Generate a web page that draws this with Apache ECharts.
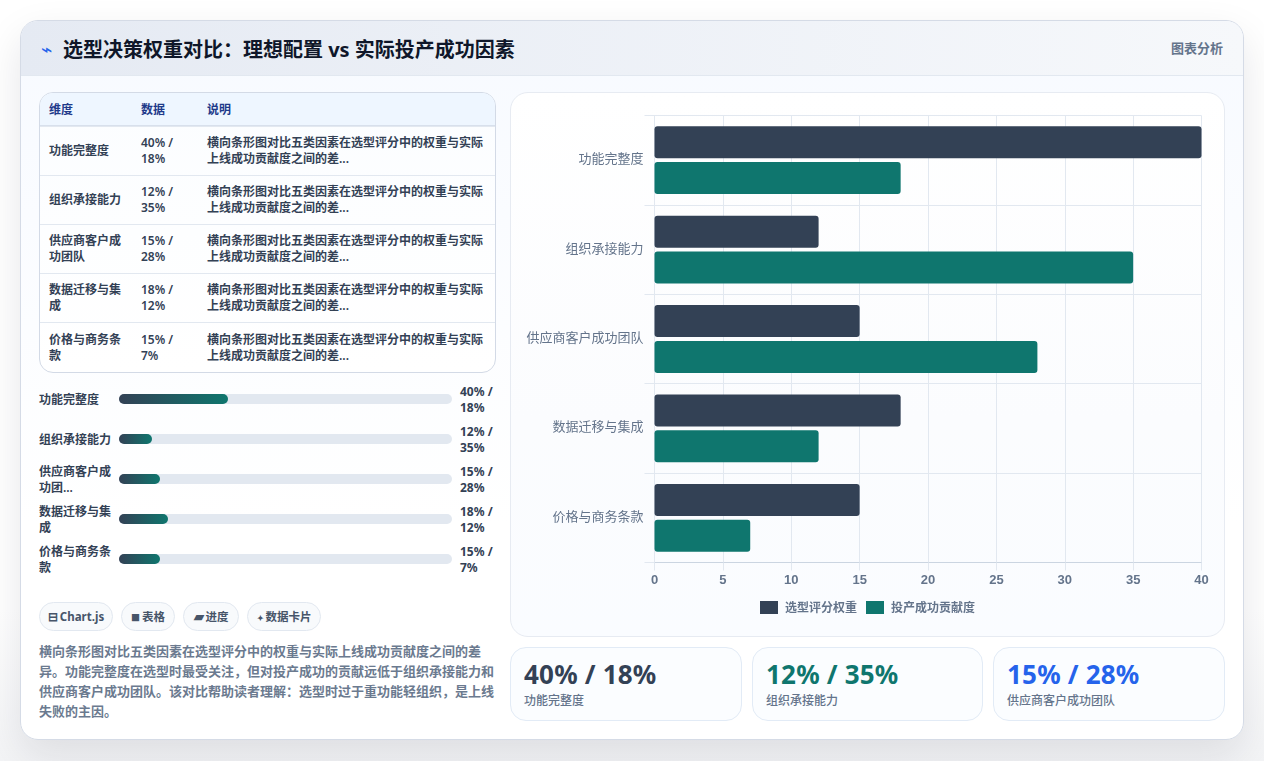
<!DOCTYPE html>
<html lang="zh-CN">
<head>
<meta charset="utf-8">
<title>选型决策权重对比</title>
<script src="https://cdn.jsdelivr.net/npm/echarts@6/dist/echarts.min.js"></script>
<style>
*{box-sizing:border-box;margin:0;padding:0}
html,body{width:1264px;height:761px;overflow:hidden;background:linear-gradient(180deg,#fff 0%,#fff 80%,#f3f4f6 100%);font-family:"Noto Sans","Noto Sans CJK SC",sans-serif;color:#334155}
.abs{position:absolute}
#card{left:20px;top:20px;width:1224px;height:720px;border-radius:18px;background:linear-gradient(180deg,#f7faff 0%,#fff 70%);border:1px solid #d5dbe6;box-shadow:0 16px 40px rgba(15,23,42,.10);overflow:hidden}
#head{left:0;top:0;width:1222px;height:55px;background:linear-gradient(90deg,#e5eaf3 0%,#f6f8fb 100%);border-bottom:1px solid #e2e8f0}
#icon{left:20px;top:14px;font-size:19px;line-height:28px;color:#2563eb}
#title{left:42px;top:13px;font-size:20px;line-height:32px;font-weight:700;color:#0f172a;white-space:nowrap}
#tag{right:20px;top:16px;font-size:13px;line-height:22px;font-weight:600;color:#64748b}
#table{left:39px;top:92px;width:457px;height:281px;border:1px solid #d3dae6;border-radius:14px;overflow:hidden;background:linear-gradient(180deg,#fbfdff,#fff);font-size:12px;line-height:16px;font-weight:600}
.row{position:absolute;left:0;width:455px;border-top:1px solid #e2e8f0}
.row div{position:absolute;top:50%;transform:translateY(-50%)}
.c1{left:9px;width:76px}.c2{left:101px;width:44px}.c3{left:167px;width:284px}
.row.hd{top:0;height:33px;border-top:0;background:#eef6ff;color:#1e3a8a;font-weight:700;border-bottom:1px solid #d8e0ec}
.row.hd div{margin-top:1px}
.prog{position:absolute;left:39px;width:457px;height:34px;font-size:12px;line-height:16px;font-weight:600}
.prog .n{position:absolute;left:0;top:18px;transform:translateY(-50%);width:74px}
.prog .t{position:absolute;left:80px;top:12px;width:333px;height:10px;border-radius:5px;background:#e2e8f0}
.prog .f{height:10px;border-radius:5px;background:linear-gradient(90deg,#334155,#0f766e)}
.prog .v{position:absolute;left:421px;top:2px;width:40px;font-weight:700}
.chip{position:absolute;top:602px;height:29px;border:1px solid #e2e8f0;border-radius:15px;background:#f8fafc;font-size:11.5px;line-height:27px;font-weight:700;color:#475569;text-align:center;white-space:nowrap}
.chip i{font-style:normal;display:inline-block;text-align:center;margin-right:2px}
#desc{left:39px;top:641px;width:457px;font-size:13px;line-height:20px;font-weight:600;color:#6b7a8f}
#panel{left:510px;top:92px;width:715px;height:545px;border:1px solid #e7ebf2;border-radius:18px;background:linear-gradient(180deg,#fff 0%,#fbfcfe 60%,#fafcff 100%)}
#chart{left:511px;top:93px;width:713px;height:543px}
.stat{position:absolute;top:647px;height:74px;border:1px solid #e2ebf6;border-radius:16px;background:#fbfdff}
.stat b{position:absolute;left:13px;top:8px;font-size:26px;line-height:36px;font-weight:700;white-space:nowrap;letter-spacing:.2px}
.stat span{position:absolute;left:13px;top:44px;font-size:12px;line-height:18px;font-weight:500;color:#64748b;white-space:nowrap}
</style>
</head>
<body>
<div id="card" class="abs">
  <div id="head" class="abs"></div>
  <div id="icon" class="abs">⌁</div>
  <div id="title" class="abs"></div>
  <div id="tag" class="abs"></div>
</div>
<div id="table" class="abs"></div>
<div id="progs"></div>
<div id="chips"></div>
<div id="desc" class="abs"></div>
<div id="panel" class="abs"></div>
<div id="chart" class="abs"></div>
<div id="stats"></div>
<script>
// Chart data
const titleText = '选型决策权重对比：理想配置 vs 实际投产成功因素';
const tagText = '图表分析';
const categories = ['功能完整度', '组织承接能力', '供应商客户成功团队', '数据迁移与集成', '价格与商务条款'];
const selectionWeight = [40, 12, 15, 18, 15];
const deliveryContribution = [18, 35, 28, 12, 7];
const seriesNames = ['选型评分权重', '投产成功贡献度'];
const tableHeaders = ['维度', '数据', '说明'];
const tableNote = '横向条形图对比五类因素在选型评分中的权重与实际上线成功贡献度之间的差...';
const progressNames = ['功能完整度', '组织承接能力', '供应商客户成功团...', '数据迁移与集成', '价格与商务条款'];
const chipIcons = ['⊟', '■', '▰', '✦'];
const chipTexts = ['Chart.js', '表格', '进度', '数据卡片'];
const description = '横向条形图对比五类因素在选型评分中的权重与实际上线成功贡献度之间的差异。功能完整度在选型时最受关注，但对投产成功的贡献远低于组织承接能力和供应商客户成功团队。该对比帮助读者理解：选型时过于重功能轻组织，是上线失败的主因。';
const statColors = ['#334155', '#0f766e', '#2563eb'];
const progressScale = 122;

const pair = i => `${selectionWeight[i]}% / ${deliveryContribution[i]}%`;
const el = (tag, cls, html) => { const n = document.createElement(tag); if (cls) n.className = cls; n.innerHTML = html || ''; return n; };

document.getElementById('title').textContent = titleText;
document.getElementById('tag').textContent = tagText;
document.getElementById('desc').textContent = description;

// Table
const table = document.getElementById('table');
table.appendChild(el('div', 'row hd', `<div class="c1">${tableHeaders[0]}</div><div class="c2">${tableHeaders[1]}</div><div class="c3">${tableHeaders[2]}</div>`));
const rowTops = [33, 82, 131, 180, 229];
const rowHeights = [49, 49, 49, 49, 50];
categories.forEach((c, i) => {
  const r = el('div', 'row', `<div class="c1">${c}</div><div class="c2">${pair(i)}</div><div class="c3">${tableNote}</div>`);
  r.style.top = rowTops[i] + 'px';
  r.style.height = rowHeights[i] + 'px';
  table.appendChild(r);
});

// Progress rows
const progs = document.getElementById('progs');
progressNames.forEach((n, i) => {
  const p = el('div', 'prog', `<div class="n">${n}</div><div class="t"><div class="f" style="width:${selectionWeight[i] / progressScale * 100}%"></div></div><div class="v">${pair(i)}</div>`);
  p.style.top = 382 + i * 40 + 'px';
  progs.appendChild(p);
});

// Chips
const chipBoxes = [[39, 74], [121, 54], [183, 56], [247, 74]];
const chipIconSizes = [11.5, 9, 13, 8];
chipTexts.forEach((t, i) => {
  const c = el('div', 'chip', `<i style="font-size:${chipIconSizes[i]}px">${chipIcons[i]}</i>${t}`);
  c.style.left = chipBoxes[i][0] + 'px';
  c.style.width = chipBoxes[i][1] + 'px';
  document.getElementById('chips').appendChild(c);
});

// Stat cards
const statBoxes = [[510, 232], [752, 231], [993, 232]];
statBoxes.forEach((b, i) => {
  const s = el('div', 'stat', `<b style="color:${statColors[i]}">${pair(i)}</b><span>${categories[i]}</span>`);
  s.style.left = b[0] + 'px';
  s.style.width = b[1] + 'px';
  document.getElementById('stats').appendChild(s);
});

// Bar chart
const chart = echarts.init(document.getElementById('chart'));
const gridLine = '#e2e8f0';
const cjkFont = '"Noto Sans CJK SC","Noto Sans",sans-serif';
chart.setOption({
  animation: false,
  grid: { left: 143.5, top: 22.5, right: 22.5, bottom: 73.5, containLabel: false },
  legend: {
    top: 503, left: 244, itemWidth: 18, itemHeight: 13, itemGap: 9, icon: 'rect',
    textStyle: { color: '#64748b', fontSize: 12, fontWeight: 600, fontFamily: cjkFont, padding: [0, 0, 0, 2] }
  },
  xAxis: {
    type: 'value', min: 0, max: 40, interval: 5,
    axisLine: { show: true, lineStyle: { color: '#cbd5e1' } },
    axisTick: { show: true, length: 8, lineStyle: { color: gridLine } },
    splitLine: { show: true, lineStyle: { color: gridLine } },
    axisLabel: { color: '#64748b', fontSize: 13, fontWeight: 600, margin: 11, fontFamily: '"Liberation Sans",Arial,sans-serif', hideOverlap: false }
  },
  yAxis: {
    type: 'category', inverse: true, data: categories,
    axisLine: { show: true, lineStyle: { color: gridLine } },
    axisTick: { show: true, length: 10, alignWithLabel: false, lineStyle: { color: gridLine } },
    splitLine: { show: true, lineStyle: { color: gridLine } },
    axisLabel: {
      interval: 0, margin: 11,
      formatter: v => `{a|${v}}`,
      rich: { a: { color: '#64748b', fontSize: 13, fontFamily: cjkFont, padding: [0, 0, 4, 0] } }
    }
  },
  series: [
    { name: seriesNames[0], type: 'bar', data: selectionWeight, barWidth: 32, barGap: '12%', itemStyle: { color: '#334155', borderRadius: 3 } },
    { name: seriesNames[1], type: 'bar', data: deliveryContribution, barWidth: 32, barGap: '12%', itemStyle: { color: '#0f766e', borderRadius: 3 } }
  ]
});
</script>
</body>
</html>
